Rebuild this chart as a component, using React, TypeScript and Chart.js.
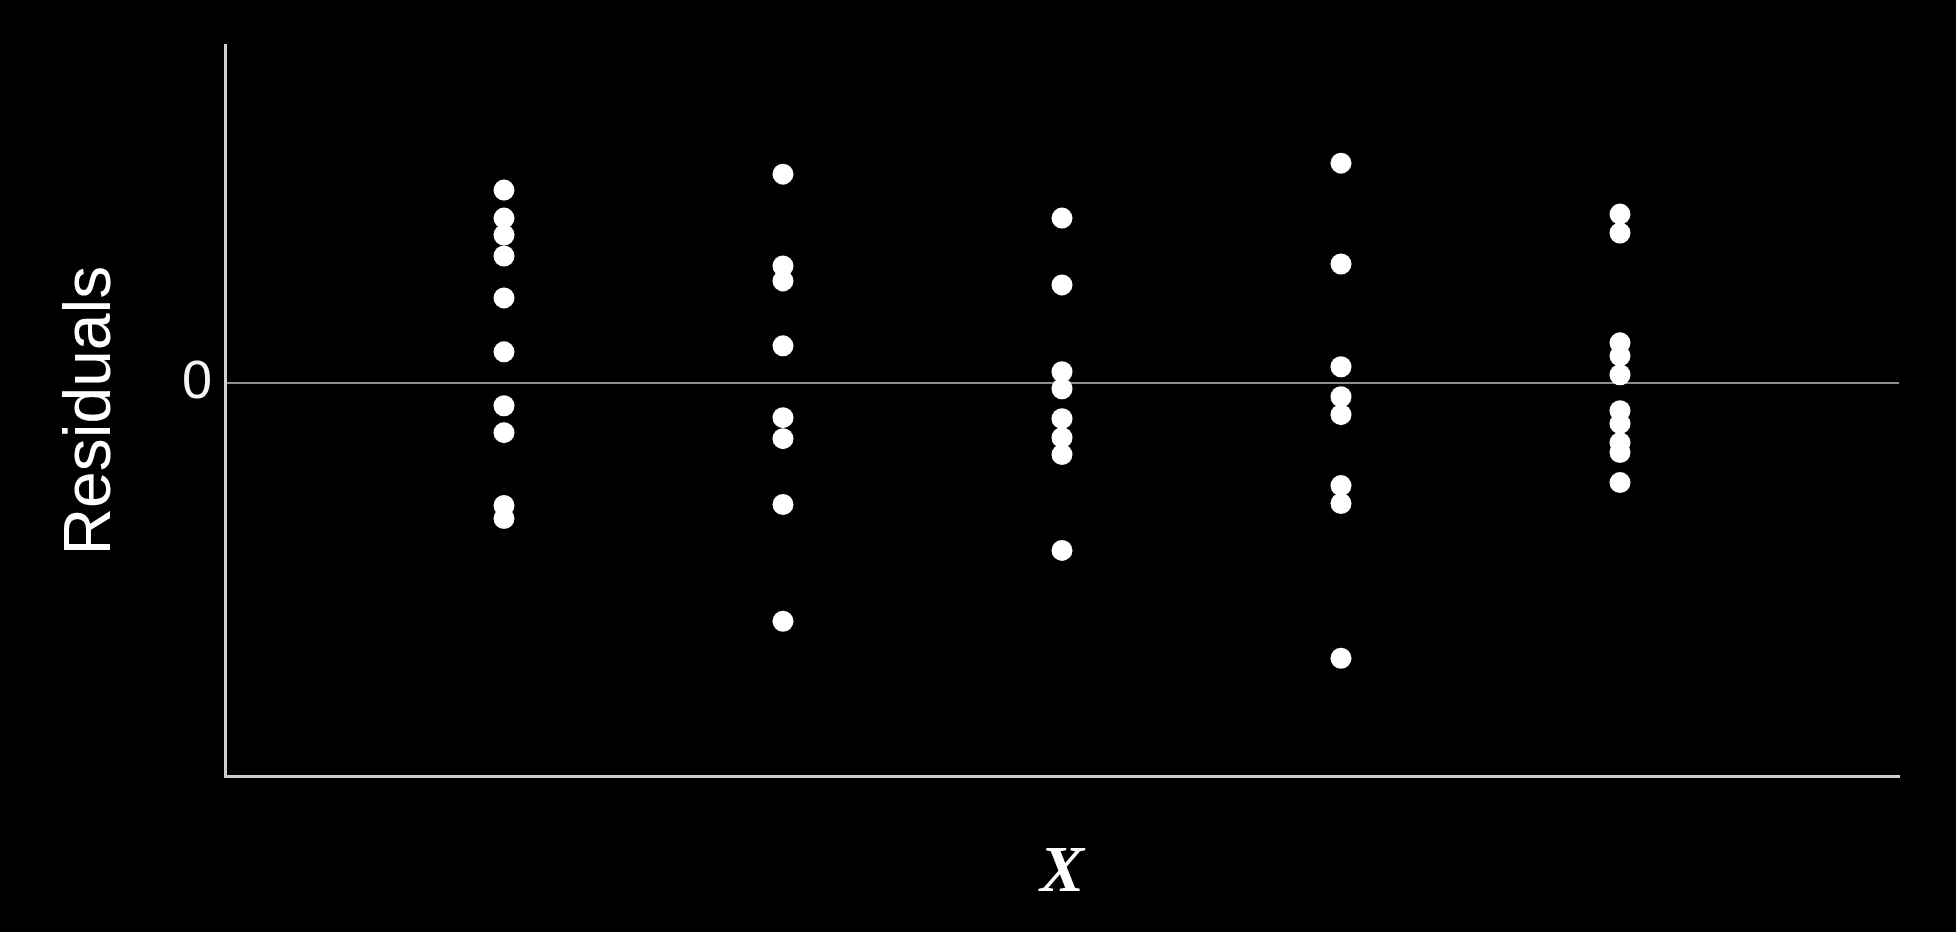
import React, { useEffect, useRef } from "react";
import { Chart, registerables } from "chart.js";

Chart.register(...registerables);

const xPositions = [1, 2, 3, 4, 5];
const group1 = [1.93, 1.65, 1.48, 1.27, 0.85, 0.31, -0.23, -0.5, -1.23, -1.36];
const group2 = [2.09, 1.17, 1.02, 0.37, -0.35, -0.56, -1.22, -2.39];
const group3 = [1.65, 0.98, 0.11, -0.06, -0.36, -0.55, -0.72, -1.68];
const group4 = [2.2, 1.19, 0.16, -0.14, -0.32, -1.03, -1.21, -2.76];
const group5 = [1.69, 1.5, 0.4, 0.27, 0.08, -0.28, -0.41, -0.6, -0.7, -1.0];
const groups = [group1, group2, group3, group4, group5];
const yTickValues = [0];
const yTitle = "Residuals";
const xTitle = "X";

export default function App() {
  const canvasRef = useRef<HTMLCanvasElement | null>(null);

  useEffect(() => {
    document.body.style.margin = "0";
    document.body.style.background = "#000";
    const canvas = canvasRef.current;
    if (!canvas) return;
    const points = groups.flatMap((g, i) => g.map((v) => ({ x: xPositions[i], y: v })));
    const chart = new Chart(canvas, {
      type: "scatter",
      data: {
        datasets: [
          {
            data: points,
            backgroundColor: "#ffffff",
            borderWidth: 0,
            pointRadius: 10.5,
            pointHoverRadius: 10.5,
          },
        ],
      },
      options: {
        responsive: false,
        animation: false,
        devicePixelRatio: 1,
        layout: { padding: { top: 44, right: 57, left: 0, bottom: 0 } },
        plugins: { legend: { display: false }, tooltip: { enabled: false } },
        scales: {
          x: {
            type: "linear",
            min: 0,
            max: 6,
            afterFit: (s: any) => {
              s.height = 156;
            },
            grid: { display: false, drawTicks: false },
            border: { display: true, color: "#cfcfcf", width: 3 },
            ticks: { display: false },
            title: {
              display: true,
              text: xTitle,
              color: "#ffffff",
              font: { family: "'Liberation Serif', 'Times New Roman', serif", size: 66, style: "italic", weight: "bold" },
              padding: { top: 0, bottom: 18 },
            },
          },
          y: {
            type: "linear",
            min: -3.94,
            max: 3.38,
            afterFit: (s: any) => {
              s.width = 225;
            },
            afterBuildTicks: (s: any) => {
              s.ticks = yTickValues.map((v) => ({ value: v }));
            },
            grid: { display: true, color: "#8e8e8e", lineWidth: 2, drawTicks: false },
            border: { display: true, color: "#cfcfcf", width: 3 },
            ticks: {
              color: "#f4f4f4",
              padding: 13,
              font: { family: "'Liberation Sans', Arial, sans-serif", size: 54 },
              callback: (v: any) => String(v),
            },
            title: {
              display: true,
              text: yTitle,
              color: "#ffffff",
              font: { family: "'Liberation Sans', Arial, sans-serif", size: 66 },
              padding: { top: 52, bottom: 0 },
            },
          },
        },
      },
    });
    return () => chart.destroy();
  }, []);

  return (
    <div style={{ position: "absolute", left: 0, top: 0, width: 1956, height: 932, background: "#000" }}>
      <canvas ref={canvasRef} width={1956} height={932} style={{ display: "block" }} />
    </div>
  );
}
